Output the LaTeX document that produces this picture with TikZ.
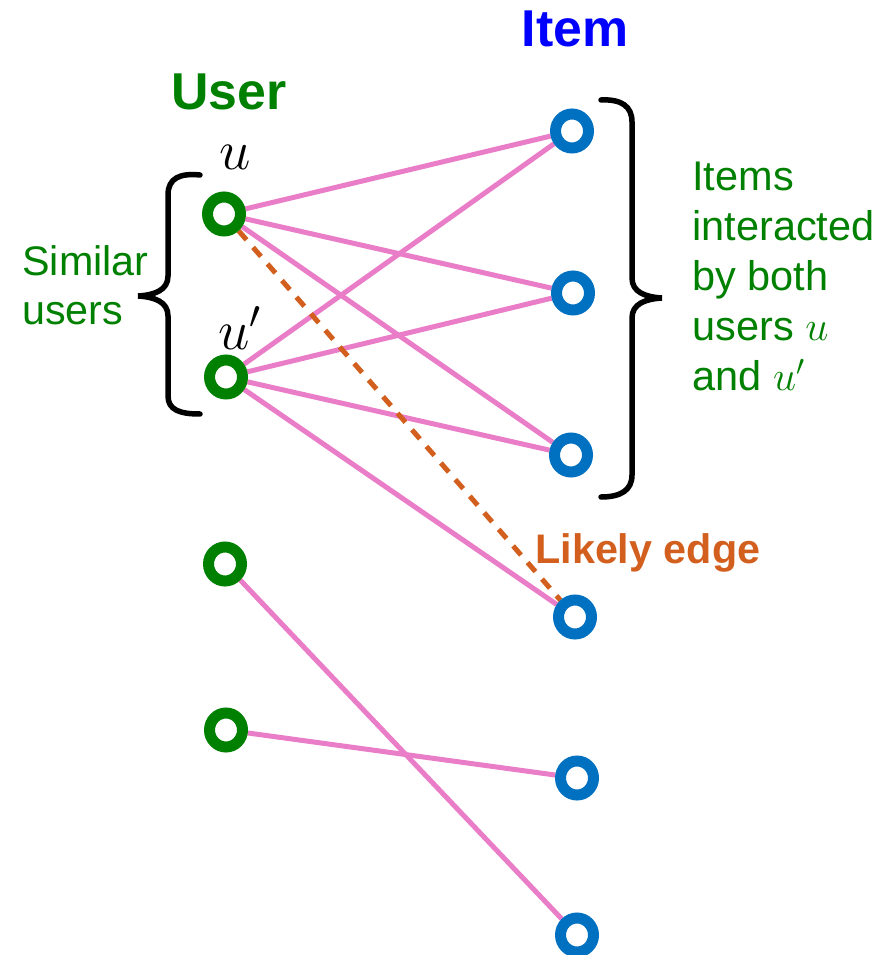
\RequirePackage{fix-cm}
\documentclass[tikz,border=0pt]{standalone}
\usepackage{fontspec}
\setmainfont{Liberation Sans}
\usetikzlibrary{shapes.geometric,backgrounds}
\definecolor{usergreen}{RGB}{0,128,0}
\definecolor{itemblue}{RGB}{0,112,192}
\definecolor{edgepink}{RGB}{234,125,200}
\definecolor{likelyorange}{RGB}{210,95,30}
\definecolor{titleblue}{RGB}{0,0,255}
\begin{document}
\begin{tikzpicture}[x=0.02cm,y=-0.02cm,
  usernode/.style={ellipse, draw=usergreen, line width=0.22cm, fill=white,
    minimum width=0.66cm, minimum height=0.68cm, inner sep=0pt},
  itemnode/.style={ellipse, draw=itemblue, line width=0.22cm, fill=white,
    minimum width=0.66cm, minimum height=0.68cm, inner sep=0pt},
  link/.style={draw=edgepink, line width=0.1cm},
  likely/.style={draw=likelyorange, line width=0.1cm, dash pattern=on 0.24cm off 0.2cm},
  brace/.style={draw=black, line width=0.11cm, line cap=round},
  title/.style={font=\fontsize{29.5}{35}\selectfont\bfseries, inner sep=0pt},
  note/.style={text=usergreen, inner sep=0pt, align=left},
]
\useasboundingbox (0,0) rectangle (884,955);

% users
\node[usernode] (u1) at (224,214) {};
\node[usernode] (u2) at (226,377) {};
\node[usernode] (u3) at (225,564) {};
\node[usernode] (u4) at (226,730) {};

% items
\node[itemnode] (i1) at (572,131) {};
\node[itemnode] (i2) at (573,293) {};
\node[itemnode] (i3) at (571,455) {};
\node[itemnode] (i4) at (575,617) {};
\node[itemnode] (i5) at (577,778) {};
\node[itemnode] (i6) at (577,935) {};

% interactions
\begin{pgfonlayer}{background}
  \draw[link] (u1) -- (i1);
  \draw[link] (u1) -- (i2);
  \draw[link] (u1) -- (i3);
  \draw[link] (u2) -- (i1);
  \draw[link] (u2) -- (i2);
  \draw[link] (u2) -- (i3);
  \draw[link] (u2) -- (i4);
  \draw[link] (u3) -- (i6);
  \draw[link] (u4) -- (i5);
  \draw[likely] (u1) -- (i4);
\end{pgfonlayer}

% column titles
\node[title, text=usergreen] (usertitle) at (229,92) {User};
\node[title, text=titleblue] (itemtitle) at (575,29) {Item};

% user labels
\node[inner sep=0pt, font=\fontsize{32}{36}\selectfont] (ulabel) at (235,157) {$u$};
\node[inner sep=0pt, font=\fontsize{32}{36}\selectfont] (uplabel) at (240,328) {$u'$};

% braces
\draw[brace] (200,175) .. controls (180,173) and (168,178) .. (168,195)
  -- (168,276) .. controls (168,290) and (155,295) .. (138,296)
  .. controls (155,297) and (168,302) .. (168,316)
  -- (168,396) .. controls (168,410) and (180,414) .. (200,414);
\draw[brace] (601,100) .. controls (621,99) and (632,106) .. (632,122)
  -- (632,278) .. controls (632,292) and (645,297) .. (662,298)
  .. controls (645,299) and (632,304) .. (632,318)
  -- (632,475) .. controls (632,490) and (621,497) .. (601,497);

% annotations
\node[note, anchor=base west, font=\fontsize{23.5}{28}\selectfont] (similar) at (22,325)
  {Similar\\users};
\node[note, anchor=base west, font=\fontsize{23.6}{28.5}\selectfont] (shared) at (692,391)
  {Items\\interacted\\by both\\users $u$\\and $u'$};
\node[inner sep=0pt, anchor=base west, text=likelyorange,
  font=\fontsize{23.5}{28}\selectfont\bfseries] (likelylabel) at (535,563) {Likely edge};
\end{tikzpicture}
\end{document}
